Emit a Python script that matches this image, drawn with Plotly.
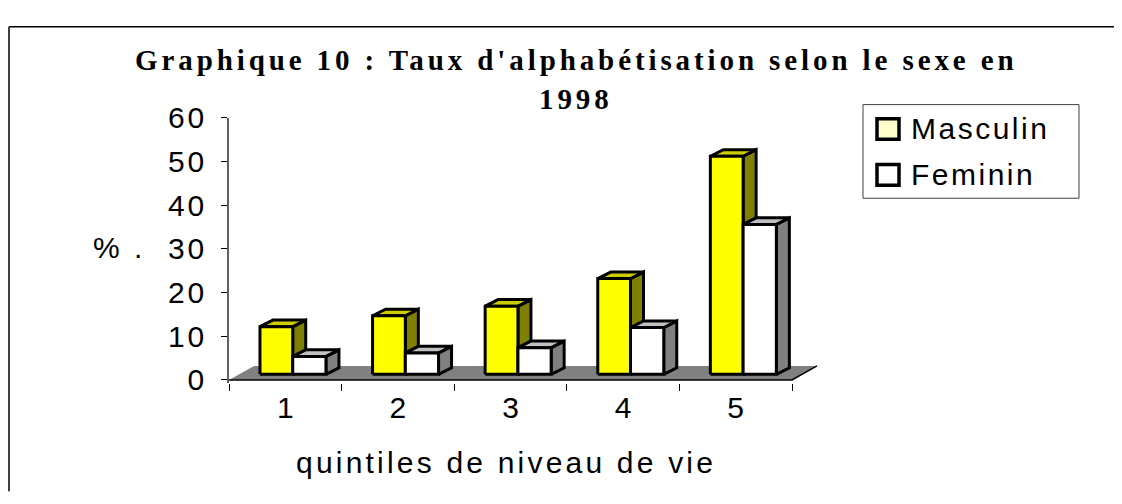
import plotly.graph_objects as go

# ---------------- data ----------------
categories = [1, 2, 3, 4, 5]
cat_labels = ["1", "2", "3", "4", "5"]
masculin = [10.9, 13.4, 15.6, 21.9, 49.9]
feminin = [4.1, 4.9, 6.1, 10.7, 34.3]
y_ticks = [0, 10, 20, 30, 40, 50, 60]
series_names = ["Masculin", "Feminin"]
title_line1 = "Graphique 10 : Taux d'alphabétisation selon le sexe en"
title_line2 = "1998"
x_title = "quintiles de niveau de vie"
y_title = "% ."

# ---------------- geometry / style ----------------
# the page body has an 8px margin: the figure is drawn inside it
OX, OY = 8, 8
FW, FH = 1122 - 2 * OX, 504 - 2 * OY

PXX = 112.6            # px per category
KY = 280 / 60          # px per % unit
X_LEFT_PX, X_RIGHT_PX = 229, 830
Y_BOT_PX, Y_TOP_PX = 390, 107
YMIN = -(Y_BOT_PX - 387) / KY

BAR_OFF = {"Masculin": (-0.225, 0.066), "Feminin": (0.066, 0.361)}
DX = 13 / PXX
DY = 7 / KY
BASE = 6 / KY
FLOOR_DX = 25 / PXX
FLOOR_DY = 15 / KY

COLORS = {
    "Masculin": ("#FFFF00", "#CCCC00", "#808000"),
    "Feminin": ("#FFFFFF", "#C0C0C0", "#808080"),
}
LEG_COLORS = {"Masculin": "#FFFFCC", "Feminin": "#FFFFFF"}
SANS = "Liberation Sans, Arial, sans-serif"
SERIF = "Liberation Serif, Times New Roman, serif"


def sp(txt, ls):
    return f"<span style='letter-spacing:{ls}px'>{txt}</span>"


def PX(px):
    return (px - OX) / FW


def PY(py):
    return 1 - (py - OY) / FH


fig = go.Figure()

# floor
x_lo, x_hi = categories[0] - 0.5, categories[-1] + 0.5
fig.add_trace(go.Scatter(
    x=[x_lo, x_hi, x_hi + FLOOR_DX, x_lo + FLOOR_DX, x_lo],
    y=[0, 0, FLOOR_DY, FLOOR_DY, 0],
    fill="toself", fillcolor="#808080", mode="lines",
    line=dict(width=0, color="#808080"), hoverinfo="skip", showlegend=False))
fig.add_trace(go.Scatter(
    x=[x_lo, x_hi, x_hi + FLOOR_DX], y=[0, 0, FLOOR_DY],
    mode="lines", line=dict(width=1.5, color="#000000"),
    hoverinfo="skip", showlegend=False))


def faces(values, name):
    a, b = BAR_OFF[name]
    fx, fy, tx, ty, sx, sy = [], [], [], [], [], []
    for c, v in zip(categories, values):
        x1, x2 = c + a, c + b
        y1, y2 = BASE, BASE + v
        fx += [x1, x2, x2, x1, x1, None]
        fy += [y1, y1, y2, y2, y1, None]
        tx += [x1, x2, x2 + DX, x1 + DX, x1, None]
        ty += [y2, y2, y2 + DY, y2 + DY, y2, None]
        sx += [x2, x2 + DX, x2 + DX, x2, x2, None]
        sy += [y1, y1 + DY, y2 + DY, y2, y1, None]
    return (fx, fy), (tx, ty), (sx, sy)


for name, vals in zip(series_names, [masculin, feminin]):
    front, top, side = faces(vals, name)
    cf, ct, cs = COLORS[name]
    for (xx, yy), col in ((side, cs), (top, ct), (front, cf)):
        fig.add_trace(go.Scatter(
            x=xx, y=yy, fill="toself", fillcolor=col, mode="lines",
            line=dict(width=3, color="#000000"), name=name,
            hoverinfo="skip", showlegend=False))

# ---------------- layout ----------------
shapes = [
    # outer frame (top and left)
    dict(type="line", xref="paper", yref="paper", x0=PX(9), x1=1.02,
         y0=PY(10), y1=PY(10), line=dict(color="black", width=1.5)),
    dict(type="line", xref="paper", yref="paper", x0=PX(9), x1=PX(9),
         y0=PY(10), y1=-0.02, line=dict(color="black", width=1.5)),
    # legend box
    dict(type="rect", xref="paper", yref="paper", x0=PX(863), x1=PX(1079),
         y0=PY(193), y1=PY(93), line=dict(color="#404040", width=1),
         fillcolor="white"),
]
annotations = []
for i, name in enumerate(series_names):
    cy = 119 + 49 * i
    shapes.append(dict(type="rect", xref="paper", yref="paper",
                       x0=PX(877), x1=PX(899),
                       y0=PY(cy + 11), y1=PY(cy - 11),
                       line=dict(color="black", width=3.5), fillcolor=LEG_COLORS[name]))
    annotations.append(dict(text=sp(name, 2.5), xref="paper", yref="paper",
                            x=PX(909), y=PY(cy), xanchor="left",
                            yanchor="middle", showarrow=False,
                            font=dict(family=SANS, size=30, color="black")))

annotations.append(dict(text=sp(title_line1, 3.9), xref="paper", yref="paper",
                        x=PX(576), y=PY(45), xanchor="center", yanchor="middle",
                        showarrow=False,
                        font=dict(family=SERIF, size=29, color="black", weight="bold")))
annotations.append(dict(text=sp(title_line2, 3.9), xref="paper", yref="paper",
                        x=PX(576), y=PY(87), xanchor="center", yanchor="middle",
                        showarrow=False,
                        font=dict(family=SERIF, size=29, color="black", weight="bold")))
annotations.append(dict(text=sp(y_title, 3), xref="paper", yref="paper",
                        x=PX(119), y=PY(246), xanchor="center",
                        yanchor="middle", showarrow=False,
                        font=dict(family=SANS, size=30, color="black")))
annotations.append(dict(text=sp(x_title, 3.2), xref="paper", yref="paper",
                        x=PX(506), y=PY(475), xanchor="center",
                        yanchor="middle", showarrow=False,
                        font=dict(family=SANS, size=30, color="black")))

fig.update_layout(
    width=FW, height=FH,
    margin=dict(l=0, r=0, t=0, b=0),
    paper_bgcolor="white", plot_bgcolor="white",
    showlegend=False,
    shapes=shapes,
    annotations=annotations,
    xaxis=dict(
        domain=[PX(X_LEFT_PX), PX(X_RIGHT_PX)],
        range=[x_lo, x_lo + (X_RIGHT_PX - X_LEFT_PX) / PXX],
        tickvals=categories, ticktext=cat_labels, ticks="",
        showline=False, showgrid=False, zeroline=False,
        ticklabelstandoff=4,
        tickfont=dict(family=SANS, size=30, color="black"),
        minor=dict(tickvals=[c - 0.5 for c in categories] + [categories[-1] + 0.5],
                   ticks="outside", ticklen=7, tickwidth=1, tickcolor="#000000",
                   showgrid=False),
        fixedrange=True,
    ),
    yaxis=dict(
        domain=[PY(Y_BOT_PX), PY(Y_TOP_PX)],
        range=[YMIN, 60],
        tickvals=y_ticks, ticktext=[sp(str(t), 3) for t in y_ticks],
        ticks="outside", ticklen=6, tickwidth=1, tickcolor="#000000",
        showline=True, linecolor="#606060", linewidth=1.5,
        showgrid=False, zeroline=False,
        ticklabelstandoff=8,
        tickfont=dict(family=SANS, size=30, color="black"),
        fixedrange=True,
    ),
)

fig.write_html("out.html")
